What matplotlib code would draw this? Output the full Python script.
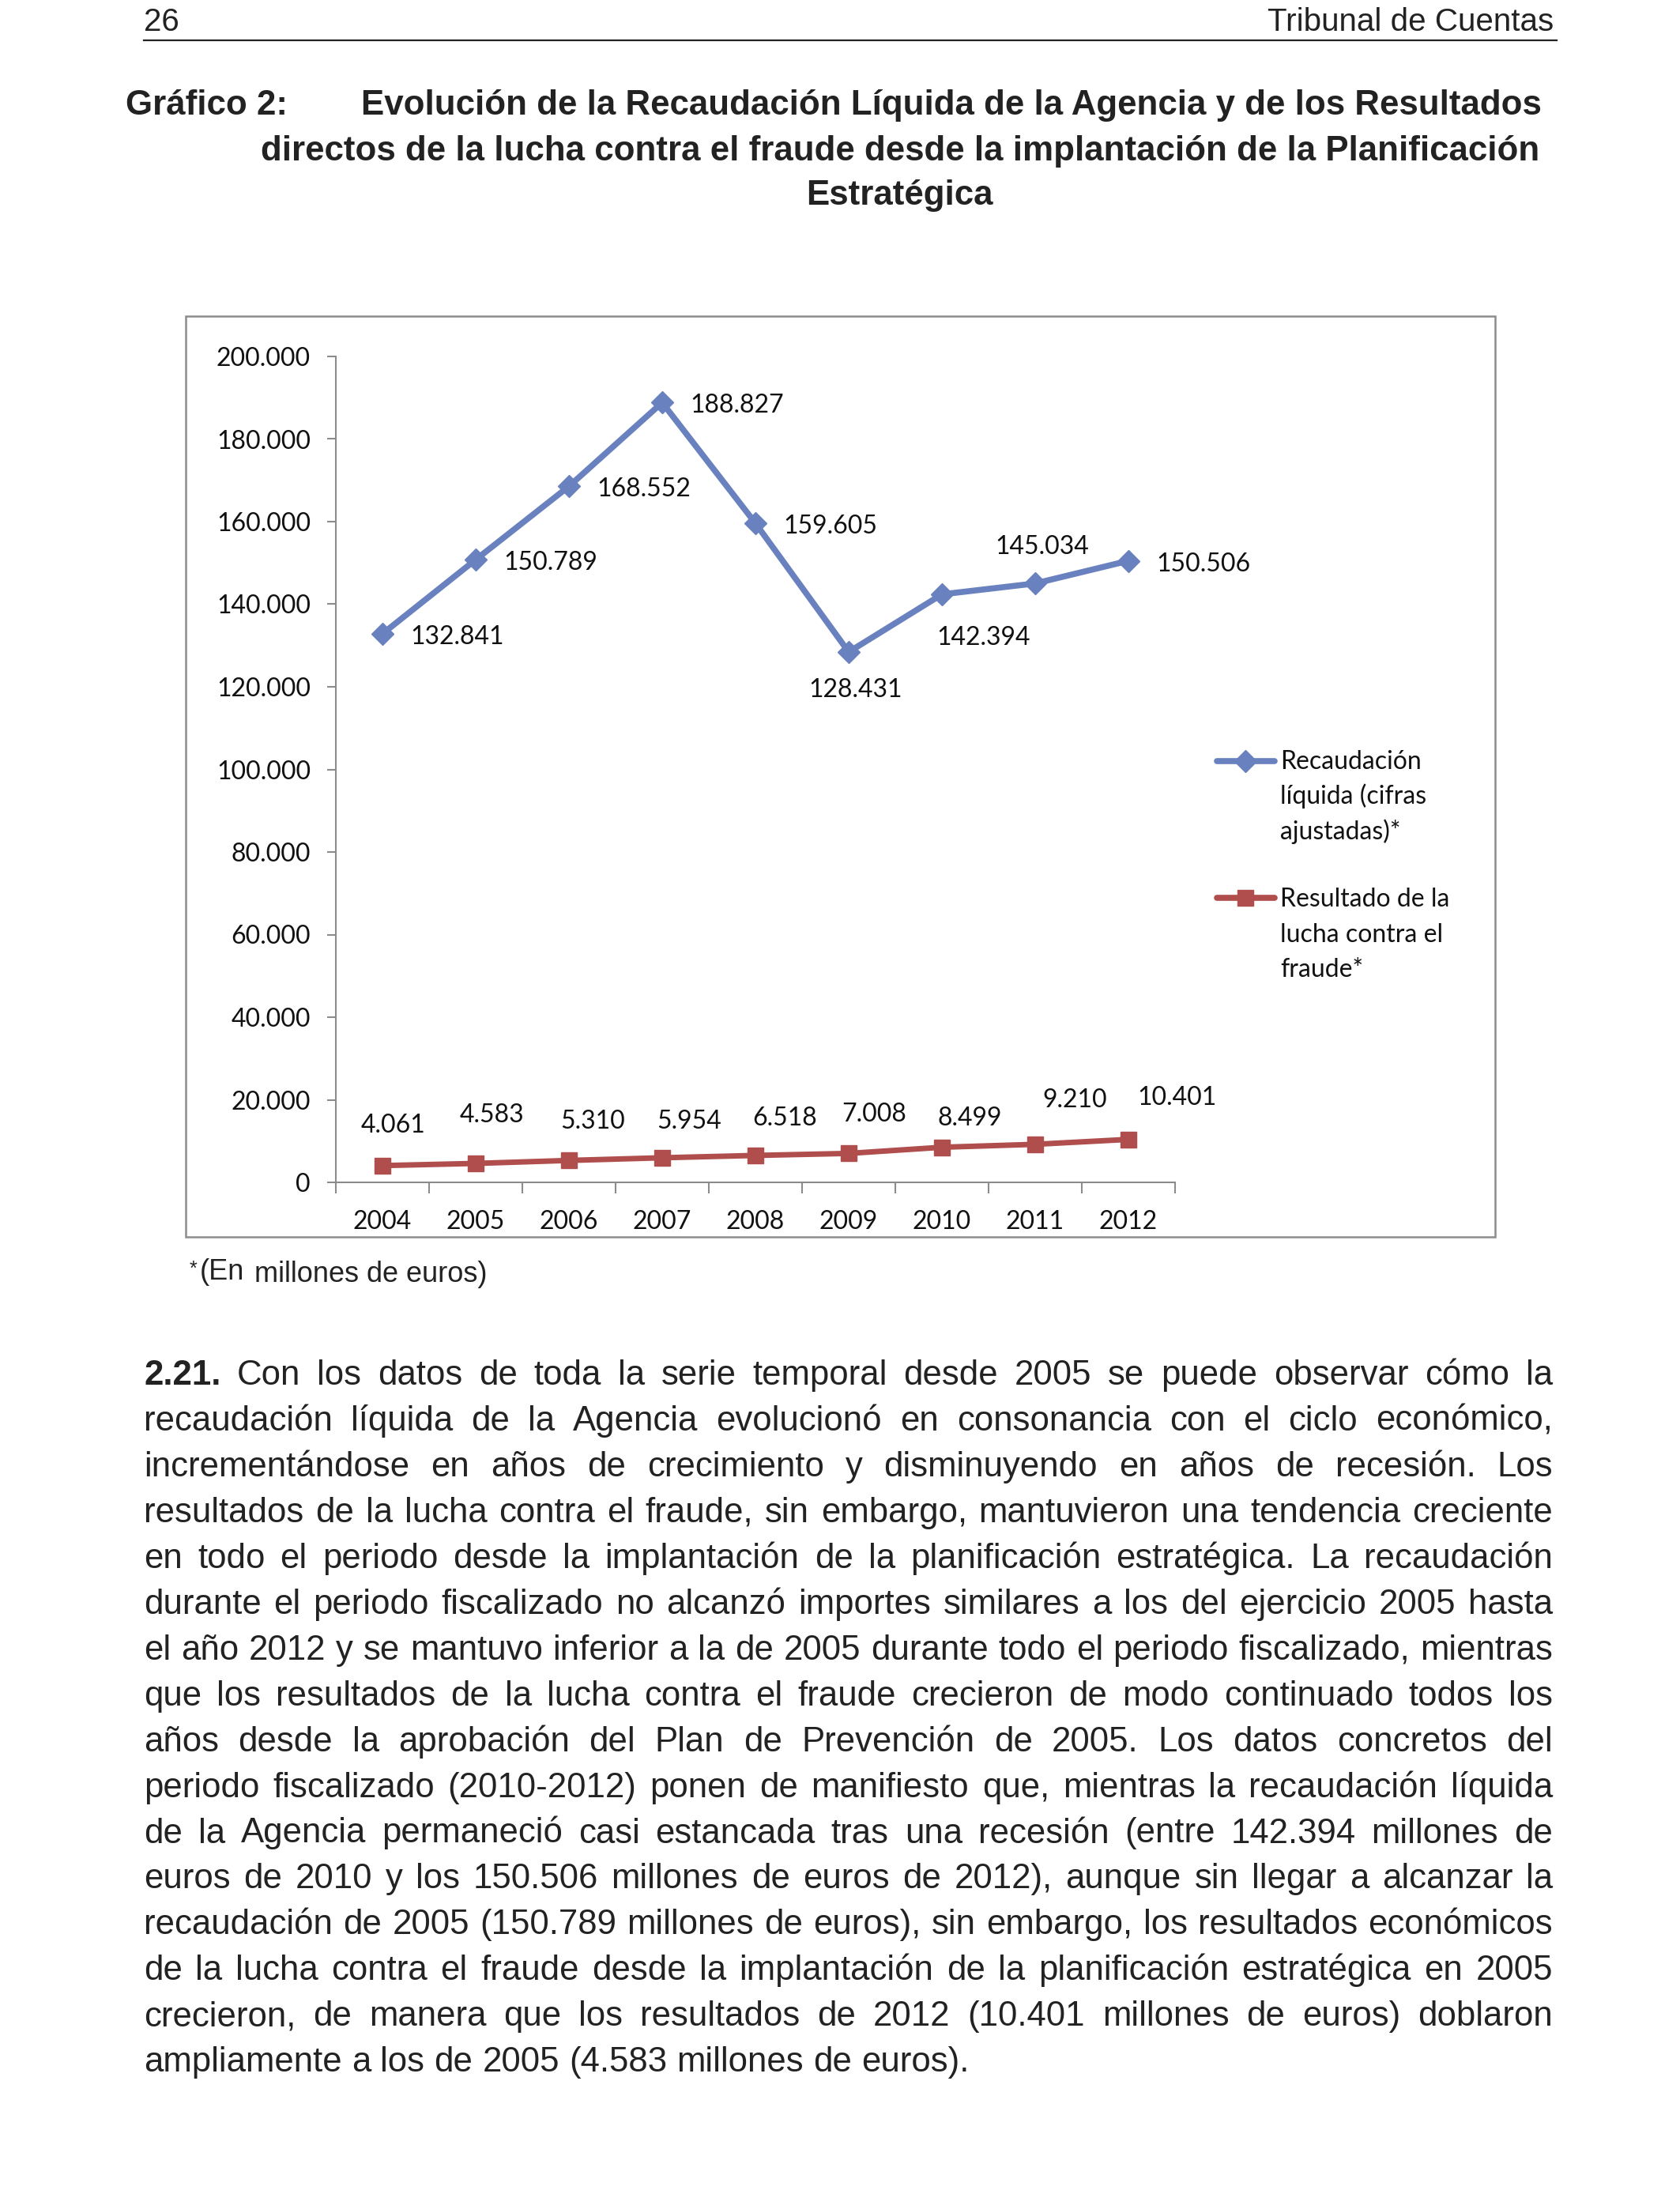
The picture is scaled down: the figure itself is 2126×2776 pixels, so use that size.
import matplotlib
matplotlib.use("Agg")
import matplotlib.pyplot as plt
from matplotlib.lines import Line2D
from matplotlib.patches import Rectangle
from matplotlib.ticker import MultipleLocator, FixedLocator, FuncFormatter

# ---------------- data ----------------
years = ["2004", "2005", "2006", "2007", "2008", "2009", "2010", "2011", "2012"]
recaudacion = [132841, 150789, 168552, 188827, 159605, 128431, 142394, 145034, 150506]
fraude = [4061, 4583, 5310, 5954, 6518, 7008, 8499, 9210, 10401]
legend_recaudacion = ["Recaudación", "líquida (cifras", "ajustadas)*"]
legend_fraude = ["Resultado de la", "lucha contra el", "fraude*"]
y_max = 200000
y_step = 20000

header_left = "26"
header_right = "Tribunal de Cuentas"
title_label = "Gráfico 2:"
title_lines = [
    "Evolución de la Recaudación Líquida de la Agencia y de los Resultados",
    "directos de la lucha contra el fraude desde la implantación de la Planificación",
    "Estratégica",
]
footnote_star = "*"
footnote_a = "(En"
footnote_b = "millones de euros)"
para_number = "2.21."
para_lines = [
    "Con los datos de toda la serie temporal desde 2005 se puede observar cómo la",
    "recaudación líquida de la Agencia evolucionó en consonancia con el ciclo económico,",
    "incrementándose en años de crecimiento y disminuyendo en años de recesión. Los",
    "resultados de la lucha contra el fraude, sin embargo, mantuvieron una tendencia creciente",
    "en todo el periodo desde la implantación de la planificación estratégica. La recaudación",
    "durante el periodo fiscalizado no alcanzó importes similares a los del ejercicio 2005 hasta",
    "el año 2012 y se mantuvo inferior a la de 2005 durante todo el periodo fiscalizado, mientras",
    "que los resultados de la lucha contra el fraude crecieron de modo continuado todos los",
    "años desde la aprobación del Plan de Prevención de 2005. Los datos concretos del",
    "periodo fiscalizado (2010-2012) ponen de manifiesto que, mientras la recaudación líquida",
    "de la Agencia permaneció casi estancada tras una recesión (entre 142.394 millones de",
    "euros de 2010 y los 150.506 millones de euros de 2012), aunque sin llegar a alcanzar la",
    "recaudación de 2005 (150.789 millones de euros), sin embargo, los resultados económicos",
    "de la lucha contra el fraude desde la implantación de la planificación estratégica en 2005",
    "crecieron, de manera que los resultados de 2012 (10.401 millones de euros) doblaron",
    "ampliamente a los de 2005 (4.583 millones de euros).",
]

# ---------------- style ----------------
W, H, DPI = 2126, 2776, 100
PAGE_FONT = "Liberation Sans"
CHART_FONT = "Lato"
BLUE = "#6A81C0"
RED = "#B04E4D"
GRAY = "#8C8C8C"
CHART_FS = 23

# label offsets in pixels (dx, dy, ha)
blue_offsets = [(35, -4, "left"), (35, -4, "left"), (35, -4, "left"), (35, -4, "left"),
                (35, -4, "left"), (9, -48, "center"), (53, -55, "center"),
                (9, 46, "center"), (35, -4, "left")]
red_offsets = [(14, 51), (21, 61), (30, 49), (34, 46), (37, 47), (32, 49), (35, 37),
               (50, 56), (62, 53)]

fig = plt.figure(figsize=(W / DPI, H / DPI), dpi=DPI)
fig.patch.set_facecolor("white")
renderer = fig.canvas.get_renderer()


def fx(px):
    return px / W


def fy(py):
    return 1 - py / H


def text_width(s, size, weight="normal", family=PAGE_FONT):
    t = fig.text(0, 0, s, fontsize=size, fontweight=weight, family=family)
    w = t.get_window_extent(renderer).width
    t.remove()
    return w


def fit_size(s, target, weight="normal", family=PAGE_FONT):
    return 20 * target / text_width(s, 20, weight, family)


# ---------------- header ----------------
hdr_fs = fit_size(header_right, 361)
fig.text(fx(182), fy(39), header_left, fontsize=hdr_fs, family=PAGE_FONT,
         ha="left", va="baseline", color="#222222")
fig.text(fx(1966), fy(39), header_right, fontsize=hdr_fs, family=PAGE_FONT,
         ha="right", va="baseline", color="#222222")
fig.add_artist(Line2D([fx(182), fx(1970)], [fy(51), fy(51)], transform=fig.transFigure,
                      color="#222222", lw=1.6))

# ---------------- title ----------------
ttl_fs = fit_size(title_lines[0], 1492, "bold")
fig.text(fx(159), fy(145), title_label, fontsize=ttl_fs, family=PAGE_FONT,
         fontweight="bold", ha="left", va="baseline", color="#222222")
fig.text(fx(457), fy(145), title_lines[0], fontsize=ttl_fs, family=PAGE_FONT,
         fontweight="bold", ha="left", va="baseline", color="#222222")
fig.text(fx(1139), fy(203), title_lines[1], fontsize=ttl_fs, family=PAGE_FONT,
         fontweight="bold", ha="center", va="baseline", color="#222222")
fig.text(fx(1138), fy(259), title_lines[2], fontsize=ttl_fs, family=PAGE_FONT,
         fontweight="bold", ha="center", va="baseline", color="#222222")

# ---------------- chart frame ----------------
fig.add_artist(Rectangle((fx(235), fy(1565)), fx(1892) - fx(235), fy(400) - fy(1565),
                         transform=fig.transFigure, fill=False, edgecolor=GRAY, lw=1.8))

# ---------------- axes ----------------
ax_l, ax_r, ax_top, ax_bot = 425, 1487, 451, 1496
ax = fig.add_axes([fx(ax_l), fy(ax_bot), fx(ax_r) - fx(ax_l), fy(ax_top) - fy(ax_bot)])
ax.set_facecolor("none")
x = list(range(len(years)))
ax.plot(x, recaudacion, color=BLUE, lw=5.5, marker="D", ms=14, mec=BLUE, mfc=BLUE,
        solid_joinstyle="miter", zorder=3)
ax.plot(x, fraude, color=RED, lw=5, marker="s", ms=15, mec=RED, mfc=RED, zorder=3)
ax.set_xlim(-0.5, len(years) - 0.5)
ax.set_ylim(0, y_max)

fmt = lambda v: f"{int(round(v)):,}".replace(",", ".")
ax.yaxis.set_major_locator(MultipleLocator(y_step))
ax.yaxis.set_major_formatter(FuncFormatter(lambda v, p: fmt(v)))
ax.set_xticks(x)
ax.set_xticklabels(years)
ax.xaxis.set_minor_locator(FixedLocator([i - 0.5 for i in range(len(years) + 1)]))
for s in ("top", "right"):
    ax.spines[s].set_visible(False)
for s in ("left", "bottom"):
    ax.spines[s].set_color(GRAY)
    ax.spines[s].set_linewidth(1.5)
ax.tick_params(axis="y", length=8, width=1.5, color=GRAY, pad=15,
               labelsize=CHART_FS, labelcolor="#111111")
ax.tick_params(axis="x", which="major", length=0, pad=25, labelsize=CHART_FS,
               labelcolor="#111111")
ax.tick_params(axis="x", which="minor", length=10, width=1.5, color=GRAY)
for lab in ax.get_xticklabels() + ax.get_yticklabels():
    lab.set_family(CHART_FONT)

for i, v in enumerate(recaudacion):
    dx, dy, ha = blue_offsets[i]
    ax.annotate(fmt(v), (i, v), xytext=(dx, dy), textcoords="offset pixels",
                ha=ha, va="center", fontsize=CHART_FS, family=CHART_FONT, color="#111111")
for i, v in enumerate(fraude):
    dx, dy = red_offsets[i]
    ax.annotate(fmt(v), (i, v), xytext=(dx, dy), textcoords="offset pixels",
                ha="center", va="center", fontsize=CHART_FS, family=CHART_FONT,
                color="#111111")

# ---------------- legend ----------------
def legend_entry(y_line, color, marker, ms, lines, baselines):
    fig.add_artist(Line2D([fx(1540), fx(1613)], [fy(y_line), fy(y_line)],
                          transform=fig.transFigure, color=color, lw=5.5,
                          solid_capstyle="round"))
    fig.add_artist(Line2D([fx(1576)], [fy(y_line)], transform=fig.transFigure,
                          marker=marker, ms=ms, color=color, lw=0))
    for txt, b in zip(lines, baselines):
        fig.text(fx(1620), fy(b), txt, fontsize=CHART_FS, family=CHART_FONT,
                 ha="left", va="baseline", color="#111111")


legend_entry(963, BLUE, "D", 14, legend_recaudacion, [973, 1017, 1062])
legend_entry(1136, RED, "s", 15, legend_fraude, [1147, 1192, 1236])

# ---------------- footnote ----------------
foot_fs = fit_size(footnote_b, 295)
fig.text(fx(240), fy(1613), footnote_star, fontsize=foot_fs * 0.7, family=PAGE_FONT,
         ha="left", va="baseline", color="#222222")
fig.text(fx(253), fy(1619), footnote_a, fontsize=foot_fs, family=PAGE_FONT,
         ha="left", va="baseline", color="#222222")
fig.text(fx(322), fy(1622), footnote_b, fontsize=foot_fs, family=PAGE_FONT,
         ha="left", va="baseline", color="#222222")

# ---------------- paragraph (justified) ----------------
para_fs = fit_size(para_lines[-1], 1044)
X0, X1 = 182, 1965
base0, step = 1752, 57.95
for li, line in enumerate(para_lines):
    words = [(w, "normal") for w in line.split(" ")]
    if li == 0:
        words = [(para_number, "bold")] + words
    yb = base0 + li * step
    widths = [text_width(w, para_fs, wt) for w, wt in words]
    if li == len(para_lines) - 1:
        gap = text_width("a b", para_fs) - text_width("ab", para_fs)
    else:
        gap = (X1 - X0 - sum(widths)) / (len(words) - 1)
    xc = X0
    for (w, wt), wd in zip(words, widths):
        fig.text(fx(xc), fy(yb), w, fontsize=para_fs, fontweight=wt, family=PAGE_FONT,
                 ha="left", va="baseline", color="#222222")
        xc += wd + gap

fig.savefig("out.png", dpi=DPI, facecolor="white")
